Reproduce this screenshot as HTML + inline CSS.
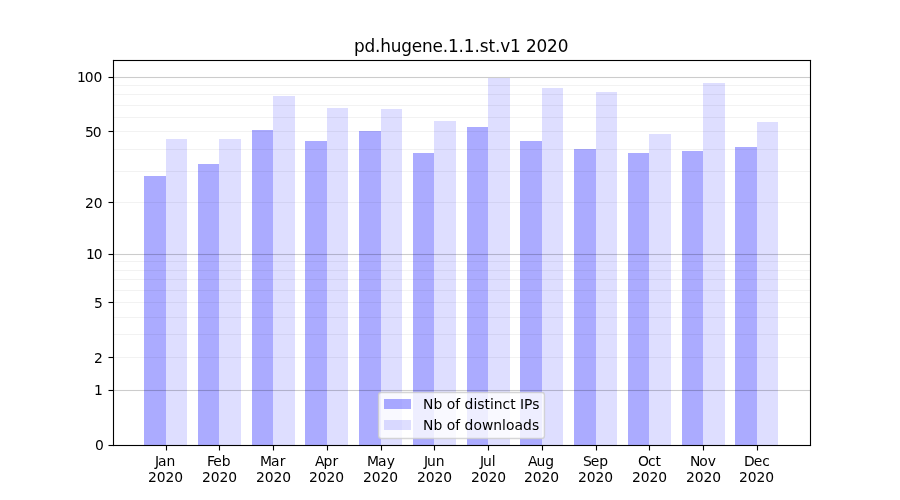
<!DOCTYPE html>
<html lang="en">
<head>
<meta charset="utf-8">
<title>pd.hugene.1.1.st.v1 2020</title>
<style>
html,body{margin:0;padding:0;background:#fff;width:900px;height:500px;overflow:hidden}
svg{display:block;will-change:transform}
text{font-family:"DejaVu Sans","Liberation Sans",sans-serif;fill:#000;white-space:pre}
.t10{font-size:13.889px}
.bar{shape-rendering:crispEdges}
</style>
</head>
<body>
<svg width="900" height="500" viewBox="0 0 900 500">
<rect width="900" height="500" fill="#fff"/>
<!-- bars -->
<g class="bar" fill="#0000ff">
<rect x="144" y="176" width="22" height="269" fill-opacity="0.33"/>
<rect x="166" y="139" width="21" height="306" fill-opacity="0.13"/>
<rect x="198" y="164" width="21" height="281" fill-opacity="0.33"/>
<rect x="219" y="139" width="22" height="306" fill-opacity="0.13"/>
<rect x="252" y="130" width="21" height="315" fill-opacity="0.33"/>
<rect x="273" y="96" width="22" height="349" fill-opacity="0.13"/>
<rect x="305" y="141" width="22" height="304" fill-opacity="0.33"/>
<rect x="327" y="108" width="21" height="337" fill-opacity="0.13"/>
<rect x="359" y="131" width="22" height="314" fill-opacity="0.33"/>
<rect x="381" y="109" width="21" height="336" fill-opacity="0.13"/>
<rect x="413" y="153" width="21" height="292" fill-opacity="0.33"/>
<rect x="434" y="121" width="22" height="324" fill-opacity="0.13"/>
<rect x="467" y="127" width="21" height="318" fill-opacity="0.33"/>
<rect x="488" y="78" width="22" height="367" fill-opacity="0.13"/>
<rect x="520" y="141" width="22" height="304" fill-opacity="0.33"/>
<rect x="542" y="88" width="21" height="357" fill-opacity="0.13"/>
<rect x="574" y="149" width="22" height="296" fill-opacity="0.33"/>
<rect x="596" y="92" width="21" height="353" fill-opacity="0.13"/>
<rect x="628" y="153" width="21" height="292" fill-opacity="0.33"/>
<rect x="649" y="134" width="22" height="311" fill-opacity="0.13"/>
<rect x="682" y="151" width="21" height="294" fill-opacity="0.33"/>
<rect x="703" y="83" width="22" height="362" fill-opacity="0.13"/>
<rect x="735" y="147" width="22" height="298" fill-opacity="0.33"/>
<rect x="757" y="122" width="21" height="323" fill-opacity="0.13"/>
</g>
<!-- minor grid -->
<g fill="#000" fill-opacity="0.05">
<rect x="113" y="84.9445" width="698" height="1.111"/>
<rect x="113" y="93.9445" width="698" height="1.111"/>
<rect x="113" y="104.9445" width="698" height="1.111"/>
<rect x="113" y="116.9445" width="698" height="1.111"/>
<rect x="113" y="130.9445" width="698" height="1.111"/>
<rect x="113" y="148.9445" width="698" height="1.111"/>
<rect x="113" y="170.9445" width="698" height="1.111"/>
<rect x="113" y="201.9445" width="698" height="1.111"/>
<rect x="113" y="260.9445" width="698" height="1.111"/>
<rect x="113" y="269.9445" width="698" height="1.111"/>
<rect x="113" y="278.9445" width="698" height="1.111"/>
<rect x="113" y="289.9445" width="698" height="1.111"/>
<rect x="113" y="301.9445" width="698" height="1.111"/>
<rect x="113" y="316.9445" width="698" height="1.111"/>
<rect x="113" y="333.9445" width="698" height="1.111"/>
<rect x="113" y="356.9445" width="698" height="1.111"/>
</g>
<!-- major grid -->
<g fill="#000" fill-opacity="0.2">
<rect x="113" y="76.9445" width="698" height="1.111"/>
<rect x="113" y="253.9445" width="698" height="1.111"/>
<rect x="113" y="389.9445" width="698" height="1.111"/>
</g>
<!-- ticks -->
<g fill="#000">
<rect x="165.9445" y="445.5" width="1.111" height="5"/>
<rect x="218.9445" y="445.5" width="1.111" height="5"/>
<rect x="272.9445" y="445.5" width="1.111" height="5"/>
<rect x="326.9445" y="445.5" width="1.111" height="5"/>
<rect x="380.9445" y="445.5" width="1.111" height="5"/>
<rect x="433.9445" y="445.5" width="1.111" height="5"/>
<rect x="487.9445" y="445.5" width="1.111" height="5"/>
<rect x="541.9445" y="445.5" width="1.111" height="5"/>
<rect x="595.9445" y="445.5" width="1.111" height="5"/>
<rect x="648.9445" y="445.5" width="1.111" height="5"/>
<rect x="702.9445" y="445.5" width="1.111" height="5"/>
<rect x="756.9445" y="445.5" width="1.111" height="5"/>
<rect x="108.5" y="444.9445" width="5" height="1.111"/>
<rect x="108.5" y="389.9445" width="5" height="1.111"/>
<rect x="108.5" y="356.9445" width="5" height="1.111"/>
<rect x="108.5" y="301.9445" width="5" height="1.111"/>
<rect x="108.5" y="253.9445" width="5" height="1.111"/>
<rect x="108.5" y="201.9445" width="5" height="1.111"/>
<rect x="108.5" y="130.9445" width="5" height="1.111"/>
<rect x="108.5" y="76.9445" width="5" height="1.111"/>
</g>
<!-- spines -->
<g fill="#000">
<rect x="112.9445" y="59.9445" width="1.111" height="386.111"/>
<rect x="809.9445" y="59.9445" width="1.111" height="386.111"/>
<rect x="112.9445" y="444.9445" width="698.111" height="1.111"/>
<rect x="112.9445" y="59.9445" width="698.111" height="1.111"/>
</g>
<!-- x tick labels -->
<g class="t10">
<text x="154.887 157.887 166.512" y="466">Jan</text><text x="147.949 156.699 165.449 174.199" y="482">2020</text>
<text x="206.998 213.248 221.748" y="466">Feb</text><text x="201.936 210.686 219.436 228.186" y="482">2020</text>
<text x="260.11 271.11 279.735" y="466">Mar</text><text x="255.922 264.672 273.422 282.172" y="482">2020</text>
<text x="315.096 323.596 332.471" y="466">Apr</text><text x="308.909 317.659 326.409 335.159" y="482">2020</text>
<text x="367.083 378.083 386.708" y="466">May</text><text x="362.895 371.645 380.395 389.145" y="482">2020</text>
<text x="423.882 426.882 435.632" y="466">Jun</text><text x="416.882 425.632 434.382 443.132" y="482">2020</text>
<text x="479.931 482.931 491.681" y="466">Jul</text><text x="470.993 479.743 488.493 497.243" y="482">2020</text>
<text x="527.917 536.417 545.167" y="466">Aug</text><text x="523.98 532.73 541.48 550.23" y="482">2020</text>
<text x="582.904 590.654 599.154" y="466">Sep</text><text x="577.966 586.716 595.466 604.216" y="482">2020</text>
<text x="638.078 647.953 655.578" y="466">Oct</text><text x="631.953 640.703 649.453 658.203" y="482">2020</text>
<text x="689.877 699.252 707.752" y="466">Nov</text><text x="685.939 694.689 703.439 712.189" y="482">2020</text>
<text x="743.988 753.738 762.238" y="466">Dec</text><text x="738.926 747.676 756.426 765.176" y="482">2020</text>
</g>
<!-- y tick labels -->
<g class="t10">
<text x="94.903" y="450">0</text>
<text x="93.903" y="395">1</text>
<text x="93.903" y="363">2</text>
<text x="93.903" y="308">5</text>
<text x="85.903 93.778" y="259">10</text>
<text x="84.903 93.653" y="208">20</text>
<text x="84.903 92.653" y="137">50</text>
<text x="76.903 84.778 93.528" y="82">100</text>
</g>
<!-- title -->
<g font-size="16.9">
<text x="353.875 364.375 374.875 380.125 390.625 401.125 411.625 421.875 432.375 442.625 447.875 458.5 463.75 474.375 479.625 488.375 494.875 500.125 510 520.625 525.875 536.5 547 557.625" y="51.5">pd.hugene.1.1.st.v1 2020</text>
</g>
<!-- legend -->
<path d="M381.33 438.46 L541.67 438.46 Q544.45 438.46 544.45 435.68 L544.45 395.30 Q544.45 392.52 541.67 392.52 L381.33 392.52 Q378.55 392.52 378.55 395.30 L378.55 435.68 Q378.55 438.46 381.33 438.46 Z" fill="#fff" fill-opacity="0.8" stroke="#ccc" stroke-opacity="0.8" stroke-width="1.389"/>
<rect class="bar" x="384" y="399" width="27" height="10" fill="#0000ff" fill-opacity="0.33"/>
<rect class="bar" x="384" y="420" width="27" height="10" fill="#0000ff" fill-opacity="0.13"/>
<g class="t10">
<text x="423.12 433.495 442.37 446.745 455.245 460.245 464.62 473.495 477.37 484.495 489.995 493.87 502.62 510.245 515.745 520.12 524.12 532.245" y="409">Nb of distinct IPs</text>
<text x="423.12 433.495 442.37 446.745 455.245 460.245 464.62 473.495 481.995 493.37 502.12 505.995 514.495 523.12 531.995" y="430">Nb of downloads</text>
</g>
</svg>
</body>
</html>
